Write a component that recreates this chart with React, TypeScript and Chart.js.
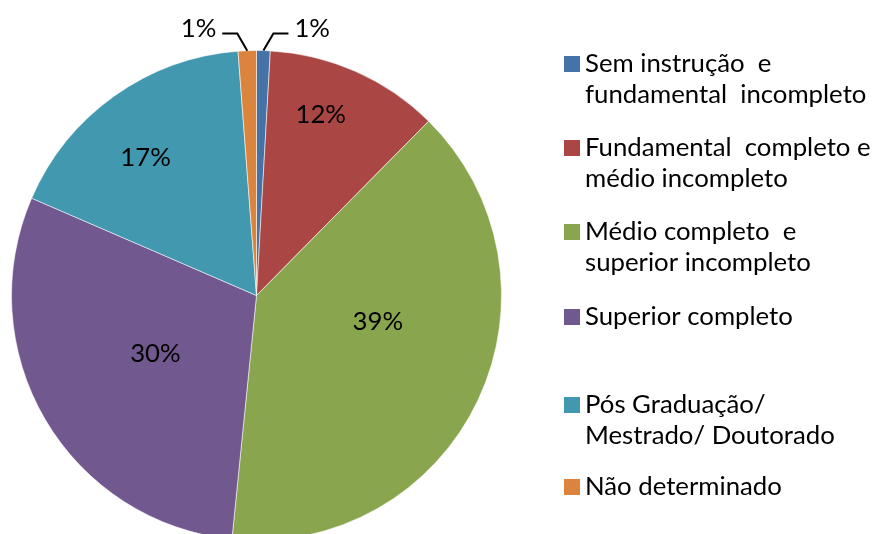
import React, { useEffect, useRef } from "react";
import { Chart, registerables } from "chart.js";

Chart.register(...registerables);

// ---- data ----
const categories = [
  "Sem instrução e fundamental incompleto",
  "Fundamental completo e médio incompleto",
  "Médio completo e superior incompleto",
  "Superior completo",
  "Pós Graduação/ Mestrado/ Doutorado",
  "Não determinado",
];
const legendLines = [
  ["Sem instrução  e", "fundamental  incompleto"],
  ["Fundamental  completo e", "médio incompleto"],
  ["Médio completo  e", "superior incompleto"],
  ["Superior completo"],
  ["Pós Graduação/", "Mestrado/ Doutorado"],
  ["Não determinado"],
];
const values = [0.9, 11.5, 39.2, 29.9, 17.3, 1.2];
const percentLabels = ["1%", "12%", "39%", "30%", "17%", "1%"];
const colors = ["#4572A7", "#AA4643", "#89A54E", "#71588F", "#4198AF", "#DB843D"];

// ---- layout ----
const labelRadiusFrac = [0, 0.784, 0.507, 0.476, 0.723, 0];
const labelNudgeDeg = [0, -4.4, -12.9, 0.5, -3.3, 0];
const useLeader = [true, false, false, false, false, true];
const legendFirstY = [64, 148, 232, 317, 405, 487];
const legendLineGap = 31;
const legendBoxX = 564;
const legendBoxSize = 16;
const legendTextX = 585;
const FONT = "Lato, 'Open Sans', sans-serif";

function fitFontSize(ctx: CanvasRenderingContext2D) {
  ctx.font = `24px ${FONT}`;
  const w = ctx.measureText("fundamental incompleto").width;
  return (24 * 275) / w;
}

const labelPlugin = {
  id: "customLabels",
  afterDraw(chart: any) {
    const ctx: CanvasRenderingContext2D = chart.ctx;
    const size = fitFontSize(ctx);
    ctx.save();
    ctx.font = `${size}px ${FONT}`;
    ctx.fillStyle = "#000";
    ctx.strokeStyle = "#000";
    ctx.lineWidth = 2;
    const meta = chart.getDatasetMeta(0);
    meta.data.forEach((arc: any, i: number) => {
      const { x, y, startAngle, endAngle, outerRadius } = arc.getProps(
        ["x", "y", "startAngle", "endAngle", "outerRadius"],
        true
      );
      const mid = (startAngle + endAngle) / 2;
      if (useLeader[i]) {
        const px = x + outerRadius * Math.cos(mid);
        const py = y + outerRadius * Math.sin(mid);
        const dir = Math.cos(mid) >= 0 ? 1 : -1;
        const ex = px + dir * 10;
        const ey = y - outerRadius - 17;
        const hx = ex + dir * 15;
        ctx.beginPath();
        ctx.moveTo(px, py);
        ctx.lineTo(ex, ey);
        ctx.lineTo(hx, ey);
        ctx.stroke();
        ctx.textAlign = dir > 0 ? "left" : "right";
        ctx.textBaseline = "middle";
        ctx.fillText(percentLabels[i], hx + dir * 6, ey - 5);
      } else {
        const a = mid + (labelNudgeDeg[i] * Math.PI) / 180;
        const r = outerRadius * labelRadiusFrac[i];
        ctx.textAlign = "center";
        ctx.textBaseline = "middle";
        ctx.fillText(percentLabels[i], x + r * Math.cos(a), y + r * Math.sin(a));
      }
    });

    // legend
    ctx.textAlign = "left";
    ctx.textBaseline = "middle";
    legendLines.forEach((lines, i) => {
      const y0 = legendFirstY[i];
      ctx.fillStyle = colors[i];
      ctx.fillRect(legendBoxX, y0 - legendBoxSize / 2, legendBoxSize, legendBoxSize);
      ctx.fillStyle = "#000";
      lines.forEach((t, j) => {
        ctx.fillText(t, legendTextX, y0 + j * legendLineGap);
      });
    });
    ctx.restore();
  },
};

export default function App() {
  const ref = useRef<HTMLCanvasElement>(null);
  useEffect(() => {
    document.body.style.margin = "0";
    document.body.style.overflow = "hidden";
    document.documentElement.style.overflow = "hidden";
    const chart = new Chart(ref.current!, {
      type: "pie",
      data: {
        labels: categories,
        datasets: [
          {
            data: values,
            backgroundColor: colors,
            borderColor: "rgba(255,255,255,0.55)",
            borderWidth: 1,
          },
        ],
      },
      options: {
        responsive: false,
        animation: false,
        layout: { padding: { left: 11, right: 370, top: 50, bottom: 5 } },
        plugins: {
          legend: { display: false },
          tooltip: { enabled: false },
        },
      },
      plugins: [labelPlugin],
    });
    return () => chart.destroy();
  }, []);
  return (
    <div style={{ width: 872, height: 534, overflow: "hidden", background: "#fff" }}>
      <canvas ref={ref} width={872} height={546} style={{ display: "block" }} />
    </div>
  );
}
